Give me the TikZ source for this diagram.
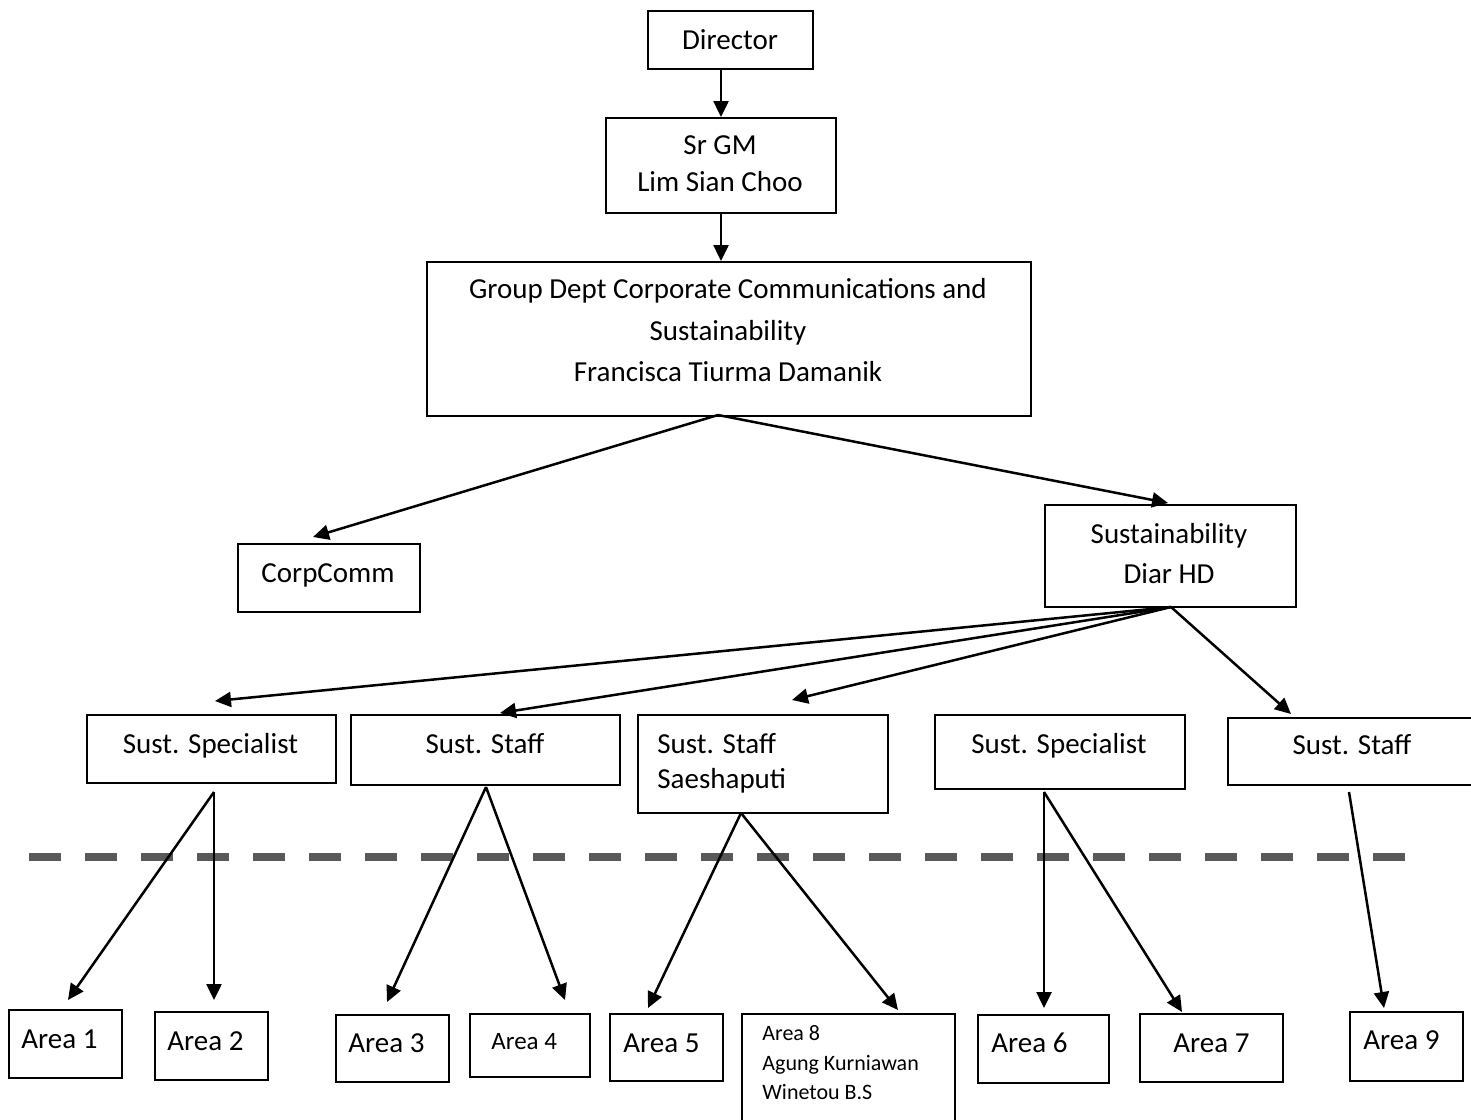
\documentclass[tikz,border=0pt]{standalone}
\usepackage{fontspec}
\setmainfont{Carlito}
\usetikzlibrary{arrows.meta}
\newcommand{\orgbox}[5]{\node[orgrect, anchor=north west, minimum width={(#4-#2)*0.5pt}, minimum height={(#5-#3)*0.5pt}] (#1) at (#2,#3) {};}
\begin{document}
\begin{tikzpicture}[x=0.5pt,y=-0.5pt,
  orgrect/.style={draw=black, line width=1pt, fill=white, inner sep=0pt},
  lbl/.style={inner sep=0pt, font=\fontsize{14.5}{17}\selectfont},
  lblsm/.style={inner sep=0pt, font=\fontsize{12.5}{15}\selectfont},
  lbltiny/.style={inner sep=0pt, font=\fontsize{11}{13}\selectfont},
  arr/.style={draw=black, line width=1.25pt, -{Triangle[length=8pt,width=7.5pt]}},
  sep/.style={draw={rgb,255:red,89;green,89;blue,89}, line width=4pt, dash pattern=on 16pt off 12pt}
]
\useasboundingbox (0,0) rectangle (1471,1119);
\clip (0,0) rectangle (1471,1119);

% separator
\coordinate (sepL) at (29,857);
\coordinate (sepR) at (1405,857);
\draw[sep] (sepL) -- (sepR);

% boxes
\orgbox{dir}{647}{10}{812}{68}
\orgbox{srgm}{605}{117}{835}{212}
\orgbox{grp}{426}{261}{1030}{415}
\orgbox{cc}{237}{543}{419}{611}
\orgbox{sus}{1044}{504}{1295}{606}
\orgbox{ssa}{86}{714}{335}{782}
\orgbox{sta}{350}{714}{619}{784}
\orgbox{sae}{637}{714}{887}{812}
\orgbox{ssb}{934}{714}{1184}{788}
\orgbox{stb}{1227}{717}{1480}{784}
\orgbox{aa}{8}{1009}{121}{1077}
\orgbox{ab}{154}{1011}{267}{1079}
\orgbox{ac}{335}{1014}{448}{1081}
\orgbox{ad}{469}{1013}{589}{1076}
\orgbox{ae}{609}{1013}{722}{1080}
\orgbox{ah}{741}{1013}{954}{1135}
\orgbox{af}{977}{1014}{1108}{1082}
\orgbox{ag}{1139}{1013}{1282}{1081}
\orgbox{ai}{1349}{1011}{1462}{1080}

% texts
\node[lbl, anchor=base] (tdir) at (730,49) {Director};
\node[lbl, anchor=base] (tsr1) at (720,154) {Sr GM};
\node[lbl, anchor=base] (tsr2) at (720,191) {Lim Sian Choo};
\node[lbl, anchor=base] (tg1) at (728,298) {Group Dept Corporate Communications and};
\node[lbl, anchor=base] (tg2) at (728,340) {Sustainability};
\node[lbl, anchor=base] (tg3) at (728,381) {Francisca Tiurma Damanik};
\node[lbl, anchor=base] (tcc) at (328,582) {CorpComm};
\node[lbl, anchor=base] (ts1) at (1169,543) {Sustainability};
\node[lbl, anchor=base] (ts2) at (1169,583) {Diar HD};
\node[lbl, anchor=base] (tssa) at (210.5,753) {Sust. Specialist};
\node[lbl, anchor=base] (tsta) at (485,753) {Sust. Staff};
\node[lbl, anchor=base west] (tsae1) at (657,753) {Sust. Staff};
\node[lbl, anchor=base west] (tsae2) at (657,788) {Saeshaputi};
\node[lbl, anchor=base] (tssb) at (1059,753) {Sust. Specialist};
\node[lbl, anchor=base] (tstb) at (1352,754) {Sust. Staff};
\node[lbl, anchor=base west] (taa) at (21,1048) {Area 1};
\node[lbl, anchor=base west] (tab) at (167,1050) {Area 2};
\node[lbl, anchor=base west] (tac) at (348,1052) {Area 3};
\node[lblsm, anchor=base west] (tad) at (491,1049) {Area 4};
\node[lbl, anchor=base west] (tae) at (623,1052) {Area 5};
\node[lbltiny, anchor=base west] (tah1) at (762,1040) {Area 8};
\node[lbltiny, anchor=base west] (tah2) at (762,1070) {Agung Kurniawan};
\node[lbltiny, anchor=base west] (tah3) at (762,1099) {Winetou B.S};
\node[lbl, anchor=base west] (taf) at (991,1052) {Area 6};
\node[lbl, anchor=base west] (tag) at (1173,1052) {Area 7};
\node[lbl, anchor=base west] (tai) at (1363,1049) {Area 9};

% connector end points
\coordinate (grpO) at (718,415);
\coordinate (ccI) at (313,537);
\coordinate (susI) at (1168,503);
\coordinate (susO) at (1171,607);
\coordinate (ssaI) at (215,701);
\coordinate (staI) at (500,713);
\coordinate (saeI) at (792,700);
\coordinate (stbI) at (1291,714);
\coordinate (ssaO) at (214,792);
\coordinate (aaI) at (68,1000);
\coordinate (abI) at (214,1000);
\coordinate (staO) at (486,787);
\coordinate (acI) at (387,1002);
\coordinate (adI) at (565,1000);
\coordinate (saeO) at (741,813);
\coordinate (aeI) at (648,1008);
\coordinate (ahI) at (898,1010);
\coordinate (ssbO) at (1044,792);
\coordinate (afI) at (1044,1008);
\coordinate (agI) at (1182,1012);
\coordinate (stbO) at (1349,792);
\coordinate (aiI) at (1384,1008);

% connectors
\draw[arr] (dir.south -| 721,0) -- (srgm.north -| 721,0);
\draw[arr] (srgm.south -| 721,0) -- (grp.north -| 721,0);
\draw[arr] (grpO) -- (ccI);
\draw[arr] (grpO) -- (susI);
\draw[arr] (susO) -- (ssaI);
\draw[arr] (susO) -- (staI);
\draw[arr] (susO) -- (saeI);
\draw[arr] (susO) -- (stbI);
\draw[arr] (ssaO) -- (aaI);
\draw[arr] (ssaO) -- (abI);
\draw[arr] (staO) -- (acI);
\draw[arr] (staO) -- (adI);
\draw[arr] (saeO) -- (aeI);
\draw[arr] (saeO) -- (ahI);
\draw[arr] (ssbO) -- (afI);
\draw[arr] (ssbO) -- (agI);
\draw[arr] (stbO) -- (aiI);
\end{tikzpicture}
\end{document}
